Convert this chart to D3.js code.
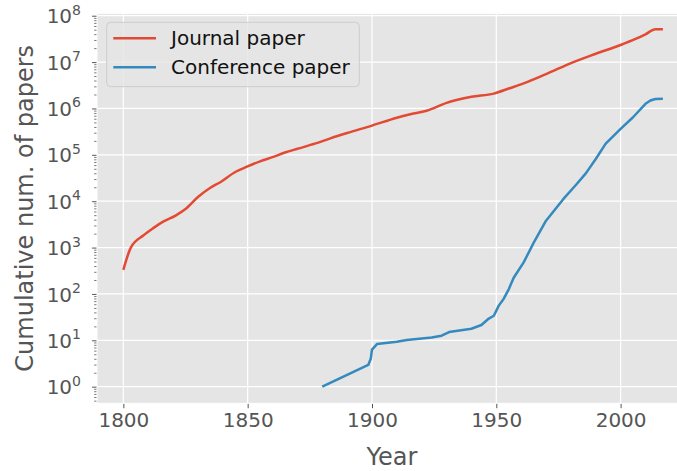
<!DOCTYPE html>
<html>
<head>
<meta charset="utf-8">
<script src="https://cdn.jsdelivr.net/npm/d3@7"></script>
<style>
  body { margin: 0; background: #fff; }
  text { font-family: "DejaVu Sans", sans-serif; }
</style>
</head>
<body>
<div id="chart"></div>
<script>
// values (cumulative counts, log scale)
var journalYears = [1800, 1803, 1808, 1812, 1816, 1821, 1825, 1830, 1835, 1839, 1845, 1850, 1855, 1860, 1865, 1870, 1877, 1883, 1890, 1900, 1910, 1915, 1922, 1930, 1940, 1949, 1955, 1961, 1970, 1981, 1990, 2000, 2006, 2010, 2014, 2017]
var journalCounts = [331, 1000, 1820, 2630, 3630, 4900, 6760, 12300, 19500, 25700, 42700, 56200, 72400, 89100, 112000, 135000, 174000, 224000, 295000, 427000, 631000, 741000, 891000, 1320000, 1780000, 2090000, 2690000, 3470000, 5500000, 10000000, 15100000, 23400000, 31600000, 39800000, 51300000, 51300000]

var confYears = [1880, 1898.5, 1899.5, 1900, 1902, 1910, 1914, 1924, 1928, 1931, 1940, 1944, 1947, 1949, 1951, 1953, 1955, 1957, 1961, 1965, 1970, 1977, 1982, 1986, 1990, 1994, 2000, 2005, 2010, 2012, 2014, 2017]
var confCounts = [1, 2.95, 4, 6.3, 8.3, 9.3, 10.2, 11.5, 12.6, 15.1, 17.8, 21.4, 29.5, 33.9, 56, 79, 126, 224, 479, 1260, 3800, 11200, 22400, 39800, 81300, 174000, 363000, 646000, 1260000, 1480000, 1600000, 1620000]

var seriesNames = ["Journal paper", "Conference paper"]
var seriesColors = ["#E24A33", "#348ABD"]

var xTicks = [1800, 1850, 1900, 1950, 2000]
var yExps = [0, 1, 2, 3, 4, 5, 6, 7, 8]

var W = 677, H = 471
var PLOT = {LEFT: 97, TOP: 13.3, RIGHT: 687, BOTTOM: 403.3}

var svg = d3.select("#chart").append("svg")
  .attr("width", W)
  .attr("height", H)

var x = d3.scaleLinear()
  .domain([1789.4, 2026.7])
  .range([PLOT.LEFT, PLOT.RIGHT])

var y = d3.scaleLog()
  .domain([Math.pow(10, -0.358), Math.pow(10, 8.052)])
  .range([PLOT.BOTTOM, PLOT.TOP])

// background
svg.append("rect")
  .attr("x", PLOT.LEFT)
  .attr("y", PLOT.TOP)
  .attr("width", PLOT.RIGHT - PLOT.LEFT)
  .attr("height", PLOT.BOTTOM - PLOT.TOP)
  .style("fill", "#E5E5E5")

// grid
svg.append("g").selectAll("line")
  .data(xTicks)
  .enter().append("line")
  .attr("x1", function(d) { return x(d) })
  .attr("x2", function(d) { return x(d) })
  .attr("y1", PLOT.TOP)
  .attr("y2", PLOT.BOTTOM)
  .style("stroke", "white")
  .style("stroke-width", 1.2)

svg.append("g").selectAll("line")
  .data(yExps)
  .enter().append("line")
  .attr("x1", PLOT.LEFT)
  .attr("x2", PLOT.RIGHT)
  .attr("y1", function(d) { return y(Math.pow(10, d)) })
  .attr("y2", function(d) { return y(Math.pow(10, d)) })
  .style("stroke", "white")
  .style("stroke-width", 1.2)

// axes
var xAxis = d3.axisBottom(x)
  .tickValues(xTicks)
  .tickSize(4.9)
  .tickPadding(4.9)
  .tickFormat(d3.format("d"))

var gx = svg.append("g")
  .attr("transform", "translate(0," + PLOT.BOTTOM + ")")
  .call(xAxis)
gx.select(".domain").remove()
gx.selectAll(".tick line").style("stroke", "#555555").style("stroke-width", 1)
gx.selectAll(".tick text")
  .style("font-size", "20px")
  .style("fill", "#555555")
  .style("font-family", "DejaVu Sans")

// minor y ticks at 2..9 of each decade
var minors = []
for (var e = -1; e <= 8; e++) {
  for (var m = 2; m <= 9; m++) {
    var v = m * Math.pow(10, e)
    if (v >= y.domain()[0] && v <= y.domain()[1]) minors.push(v)
  }
}

var gyMinor = svg.append("g")
  .attr("transform", "translate(" + PLOT.LEFT + ",0)")
  .call(d3.axisLeft(y).tickValues(minors).tickSize(2.8).tickFormat(""))
gyMinor.select(".domain").remove()
gyMinor.selectAll(".tick line").style("stroke", "#555555").style("stroke-width", 0.8)

var gy = svg.append("g")
  .attr("transform", "translate(" + PLOT.LEFT + ",0)")
  .call(d3.axisLeft(y).tickValues(yExps.map(function(d) { return Math.pow(10, d) })).tickSize(4.9).tickFormat(""))
gy.select(".domain").remove()
gy.selectAll(".tick line").style("stroke", "#555555").style("stroke-width", 1)

// 10^n labels
var ylab = svg.append("g").selectAll("text")
  .data(yExps)
  .enter().append("text")
  .attr("x", 81)
  .attr("y", function(d) { return y(Math.pow(10, d)) + 7.6 })
  .style("text-anchor", "end")
  .style("fill", "#555555")
  .style("font-size", "20px")
ylab.append("tspan").text("10")
ylab.append("tspan")
  .attr("dy", -8.6)
  .style("font-size", "14px")
  .text(function(d) { return d })

// axes edge
svg.append("rect")
  .attr("x", PLOT.LEFT)
  .attr("y", PLOT.TOP)
  .attr("width", PLOT.RIGHT - PLOT.LEFT)
  .attr("height", PLOT.BOTTOM - PLOT.TOP)
  .style("fill", "none")
  .style("stroke", "white")
  .style("stroke-width", 1)

// lines
var curves = [d3.curveMonotoneX, d3.curveLinear]
var series = [
  d3.zip(journalYears, journalCounts),
  d3.zip(confYears, confCounts)
]

svg.append("g").selectAll("path")
  .data(series)
  .enter().append("path")
  .attr("d", function(d, i) {
    return d3.line()
      .x(function(p) { return x(p[0]) })
      .y(function(p) { return y(p[1]) })
      .curve(curves[i])(d)
  })
  .style("fill", "none")
  .style("stroke", function(d, i) { return seriesColors[i] })
  .style("stroke-width", 2.5)
  .style("stroke-linejoin", "round")
  .style("stroke-linecap", "butt")

// axis labels
svg.append("text")
  .attr("x", 392)
  .attr("y", 464.5)
  .style("text-anchor", "middle")
  .style("font-size", "24px")
  .style("fill", "#555555")
  .text("Year")

svg.append("text")
  .attr("transform", "translate(33," + ((PLOT.TOP + PLOT.BOTTOM) / 2) + ") rotate(-90)")
  .style("text-anchor", "middle")
  .style("font-size", "24px")
  .style("fill", "#555555")
  .text("Cumulative num. of papers")

// legend
var legend = svg.append("g")
legend.append("rect")
  .attr("x", 106.7)
  .attr("y", 22.3)
  .attr("width", 252.6)
  .attr("height", 64.4)
  .attr("rx", 4)
  .style("fill", "#E5E5E5")
  .style("fill-opacity", 0.8)
  .style("stroke", "#CCCCCC")
  .style("stroke-width", 1)

var items = legend.selectAll(".item")
  .data(seriesNames)
  .enter().append("g")
  .attr("class", "item")
  .attr("transform", function(d, i) { return "translate(0," + (38.3 + i * 29) + ")" })

items.append("line")
  .attr("x1", 113.3)
  .attr("x2", 156)
  .style("stroke", function(d, i) { return seriesColors[i] })
  .style("stroke-width", 2.5)

items.append("text")
  .attr("x", 171)
  .attr("y", 7)
  .style("font-size", "20px")
  .style("fill", "#111111")
  .text(function(d) { return d })
</script>
</body>
</html>
